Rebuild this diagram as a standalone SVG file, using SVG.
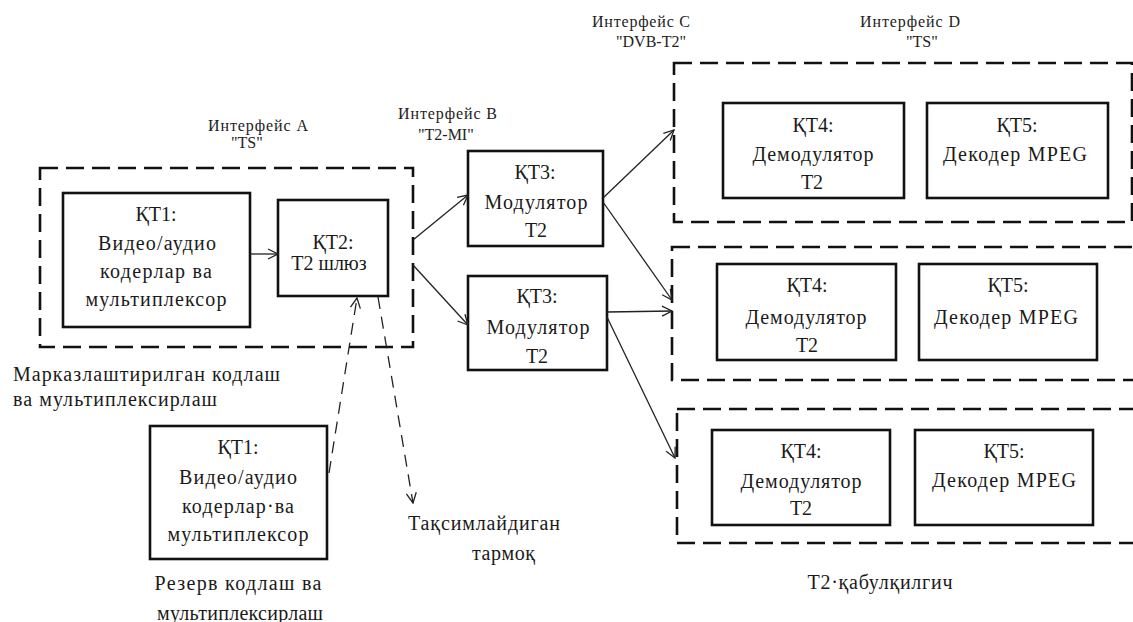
<svg xmlns="http://www.w3.org/2000/svg" width="1133" height="622" viewBox="0 0 1133 622">
<style>
  .bg{fill:#ffffff}
  .box{fill:#ffffff;stroke:#111;stroke-width:2.6}
  .grp{fill:none;stroke:#111;stroke-width:2.6;stroke-dasharray:18 8}
  .t{font-family:"Liberation Serif","Times New Roman",serif;font-size:20px;fill:#1a1a1a;text-anchor:middle}
  .tl{font-family:"Liberation Serif","Times New Roman",serif;font-size:20px;fill:#1a1a1a}
  .s{font-family:"Liberation Serif","Times New Roman",serif;font-size:16px;fill:#222}
  .c{fill:none;stroke:#222;stroke-width:1.3}
  .cd{fill:none;stroke:#222;stroke-width:1.3;stroke-dasharray:12 8}
</style>
<defs>
  <marker id="ah" viewBox="0 0 12 12" refX="11" refY="6" markerWidth="12" markerHeight="12" markerUnits="userSpaceOnUse" orient="auto">
    <path d="M1,1 L11,6 L1,11" fill="none" stroke="#222" stroke-width="1.3"/>
  </marker>
</defs>
<rect class="bg" x="0" y="0" width="1133" height="622"/>

<g id="group-central">
  <rect class="grp" x="40" y="168" width="373" height="179"/>
  <text class="tl" x="13" y="381" textLength="267" lengthAdjust="spacing">Марказлаштирилган кодлаш</text>
  <text class="tl" x="13" y="406" textLength="204" lengthAdjust="spacing">ва мультиплексирлаш</text>
</g>

<g id="iface-a">
  <text class="s" x="208" y="131" textLength="100" lengthAdjust="spacing">Интерфейс А</text>
  <text class="s" x="231" y="148">"TS"</text>
</g>
<g id="iface-b">
  <text class="s" x="398" y="119" textLength="99" lengthAdjust="spacing">Интерфейс В</text>
  <text class="s" x="418" y="140">"T2-MI"</text>
</g>
<g id="iface-c">
  <text class="s" x="592" y="27" textLength="98" lengthAdjust="spacing">Интерфейс С</text>
  <text class="s" x="616" y="47">"DVB-T2"</text>
</g>
<g id="iface-d">
  <text class="s" x="860" y="27" textLength="100" lengthAdjust="spacing">Интерфейс D</text>
  <text class="s" x="906" y="47">"TS"</text>
</g>

<g id="kt1-main">
  <rect class="box" x="63" y="193" width="187" height="134"/>
  <text class="t" x="156" y="221">ҚТ1:</text>
  <text class="t" x="157" y="250" textLength="118" lengthAdjust="spacing">Видео/аудио</text>
  <text class="t" x="156" y="278" textLength="112" lengthAdjust="spacing">кодерлар ва</text>
  <text class="t" x="156" y="306" textLength="141" lengthAdjust="spacing">мультиплексор</text>
</g>

<g id="kt2">
  <rect class="box" x="278" y="200" width="110" height="96"/>
  <text class="t" x="333" y="249">ҚТ2:</text>
  <text class="t" x="329" y="270">Т2 шлюз</text>
</g>

<g id="kt3-top">
  <rect class="box" x="468" y="151" width="135" height="95"/>
  <text class="t" x="535" y="179">ҚТ3:</text>
  <text class="t" x="536" y="209" textLength="103" lengthAdjust="spacing">Модулятор</text>
  <text class="t" x="536" y="237">Т2</text>
</g>

<g id="kt3-bottom">
  <rect class="box" x="468" y="276" width="139" height="94"/>
  <text class="t" x="537" y="303">ҚТ3:</text>
  <text class="t" x="538" y="334" textLength="103" lengthAdjust="spacing">Модулятор</text>
  <text class="t" x="537" y="363">Т2</text>
</g>

<g id="kt1-reserve">
  <rect class="box" x="150" y="426" width="177" height="133"/>
  <text class="t" x="238" y="454">ҚТ1:</text>
  <text class="t" x="238" y="484" textLength="118" lengthAdjust="spacing">Видео/аудио</text>
  <text class="t" x="238" y="513" textLength="112" lengthAdjust="spacing">кодерлар·ва</text>
  <text class="t" x="238" y="541" textLength="141" lengthAdjust="spacing">мультиплексор</text>
  <text class="t" x="238" y="590" textLength="167" lengthAdjust="spacing">Резерв кодлаш ва</text>
  <text class="t" x="240" y="620" textLength="166" lengthAdjust="spacing">мультиплексирлаш</text>
</g>

<g id="network-label">
  <text class="tl" x="408" y="530" textLength="152" lengthAdjust="spacing">Тақсимлайдиган</text>
  <text class="tl" x="472" y="560" textLength="63" lengthAdjust="spacing">тармоқ</text>
</g>

<g id="receiver-1">
  <rect class="grp" x="674" y="63" width="458" height="159"/>
  <rect class="box" x="723" y="103" width="181" height="95"/>
  <text class="t" x="813" y="132">ҚТ4:</text>
  <text class="t" x="813" y="161" textLength="121" lengthAdjust="spacing">Демодулятор</text>
  <text class="t" x="812" y="189">Т2</text>
  <rect class="box" x="927" y="103" width="181" height="95"/>
  <text class="t" x="1017" y="132">ҚТ5:</text>
  <text class="t" x="1015" y="161" textLength="144" lengthAdjust="spacing">Декодер MPEG</text>
</g>

<g id="receiver-2">
  <rect class="grp" x="672" y="247" width="480" height="133"/>
  <rect class="box" x="717" y="264" width="179" height="96"/>
  <text class="t" x="807" y="292">ҚТ4:</text>
  <text class="t" x="806" y="324" textLength="121" lengthAdjust="spacing">Демодулятор</text>
  <text class="t" x="807" y="352">Т2</text>
  <rect class="box" x="919" y="264" width="178" height="96"/>
  <text class="t" x="1008" y="292">ҚТ5:</text>
  <text class="t" x="1006" y="324" textLength="144" lengthAdjust="spacing">Декодер MPEG</text>
</g>

<g id="receiver-3">
  <rect class="grp" x="677" y="409" width="475" height="134"/>
  <rect class="box" x="712" y="430" width="178" height="95"/>
  <text class="t" x="801" y="458">ҚТ4:</text>
  <text class="t" x="801" y="488" textLength="121" lengthAdjust="spacing">Демодулятор</text>
  <text class="t" x="801" y="515">Т2</text>
  <rect class="box" x="915" y="430" width="178" height="95"/>
  <text class="t" x="1004" y="458">ҚТ5:</text>
  <text class="t" x="1004" y="487" textLength="144" lengthAdjust="spacing">Декодер MPEG</text>
  <text class="t" x="880" y="589" textLength="145" lengthAdjust="spacing">Т2·қабулқилгич</text>
</g>

<g id="connectors">
  <line class="c" x1="250" y1="254" x2="278" y2="254" marker-end="url(#ah)"/>
  <line class="c" x1="413" y1="240" x2="468" y2="195" marker-end="url(#ah)"/>
  <line class="c" x1="413" y1="265" x2="468" y2="325" marker-end="url(#ah)"/>
  <line class="c" x1="603" y1="198" x2="674" y2="130" marker-end="url(#ah)"/>
  <line class="c" x1="603" y1="202" x2="672" y2="300" marker-end="url(#ah)"/>
  <line class="c" x1="607" y1="312" x2="672" y2="311" marker-end="url(#ah)"/>
  <line class="c" x1="607" y1="317" x2="675" y2="458" marker-end="url(#ah)"/>
  <line class="cd" x1="329" y1="473" x2="357" y2="298" marker-end="url(#ah)"/>
  <line class="cd" x1="378" y1="297" x2="413" y2="503" marker-end="url(#ah)"/>
</g>
</svg>
